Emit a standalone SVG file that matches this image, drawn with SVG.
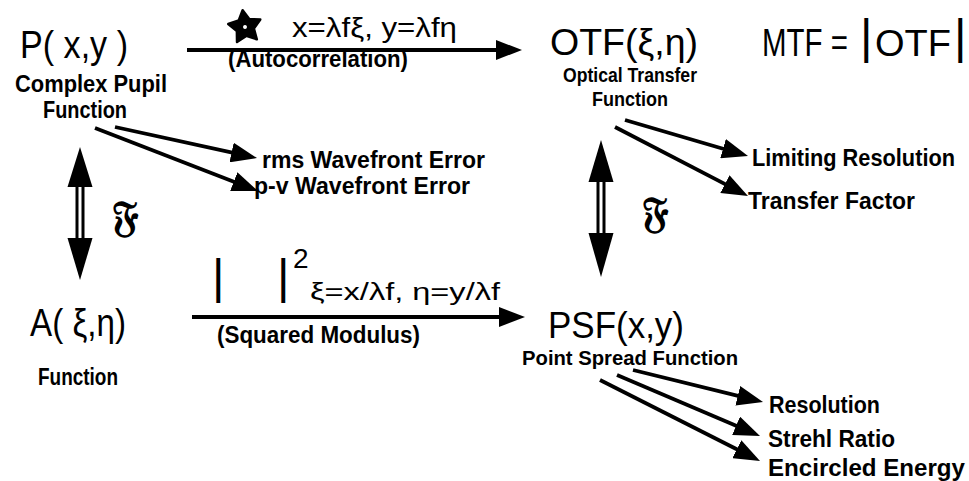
<svg xmlns="http://www.w3.org/2000/svg" width="969" height="481" viewBox="0 0 969 481">
  <style>
    text { fill: #000; font-family: "Liberation Sans", Arial, sans-serif; }
    .big { font-size: 39px; }
    .mid { font-size: 37px; }
    .lbl { font-size: 23px; font-weight: bold; }
    .sm { font-size: 21px; font-weight: bold; }
    .eq { font-size: 27px; }
    .sub { font-size: 23px; }
    .bar { font-size: 48px; }
    .frak { font-family: "DejaVu Serif", "Liberation Serif", serif; font-size: 42px; font-weight: bold; }
    .conn { stroke: #000; stroke-width: 3.8; fill: none; marker-end: url(#head); }
    .dbl { fill: #000; }
  </style>
  <defs>
    <marker id="head" markerUnits="userSpaceOnUse" viewBox="0 -10 26 20" markerWidth="26" markerHeight="20" refX="16" refY="0" orient="auto">
      <path d="M0,-10 L26,0 L0,10 z" fill="#000"/>
    </marker>
  </defs>
  <rect width="969" height="481" fill="#fff"/>

  <!-- pupil function -->
  <g id="pupil">
    <text class="big" x="20" y="58" textLength="108" lengthAdjust="spacingAndGlyphs">P( x,y )</text>
    <text class="lbl" x="91" y="92" text-anchor="middle" textLength="152" lengthAdjust="spacingAndGlyphs">Complex Pupil</text>
    <text class="lbl" x="85" y="118" text-anchor="middle" textLength="84" lengthAdjust="spacingAndGlyphs">Function</text>
  </g>

  <!-- optical transfer function -->
  <g id="otf">
    <text class="mid" x="550" y="55" textLength="148" lengthAdjust="spacingAndGlyphs">OTF(ξ,η)</text>
    <text class="sm" x="630" y="82" text-anchor="middle" textLength="134" lengthAdjust="spacingAndGlyphs">Optical Transfer</text>
    <text class="sm" x="630" y="106" text-anchor="middle" textLength="76" lengthAdjust="spacingAndGlyphs">Function</text>
  </g>

  <!-- modulation transfer function -->
  <g id="mtf">
    <text class="big" transform="translate(762,56) scale(0.755,1)">MTF =</text>
    <text class="bar" x="860" y="53">|</text>
    <text class="mid" x="875" y="56" textLength="76" lengthAdjust="spacingAndGlyphs">OTF</text>
    <text class="bar" x="954" y="53">|</text>
  </g>

  <!-- amplitude spread function -->
  <g id="amplitude">
    <text class="big" x="30" y="336" textLength="96" lengthAdjust="spacingAndGlyphs">A( ξ,η)</text>
    <text class="lbl" x="78" y="385" text-anchor="middle" textLength="80" lengthAdjust="spacingAndGlyphs">Function</text>
  </g>

  <!-- point spread function -->
  <g id="psf">
    <text class="mid" x="548" y="338" textLength="136" lengthAdjust="spacingAndGlyphs">PSF(x,y)</text>
    <text class="sm" x="522" y="365" textLength="216" lengthAdjust="spacingAndGlyphs">Point Spread Function</text>
  </g>

  <!-- pupil metrics -->
  <g id="rms">
    <text class="lbl" x="262" y="168" textLength="223" lengthAdjust="spacingAndGlyphs">rms Wavefront  Error</text>
  </g>
  <g id="pv">
    <text class="lbl" x="254" y="194" textLength="216" lengthAdjust="spacingAndGlyphs">p-v Wavefront Error</text>
  </g>

  <!-- OTF metrics -->
  <g id="limiting">
    <text class="lbl" x="752" y="166" textLength="203" lengthAdjust="spacingAndGlyphs">Limiting Resolution</text>
  </g>
  <g id="transfer">
    <text class="lbl" x="748" y="209" textLength="167" lengthAdjust="spacingAndGlyphs">Transfer Factor</text>
  </g>

  <!-- PSF metrics -->
  <g id="resolution">
    <text class="lbl" x="769" y="413" textLength="111" lengthAdjust="spacingAndGlyphs">Resolution</text>
  </g>
  <g id="strehl">
    <text class="lbl" x="768" y="447" textLength="127" lengthAdjust="spacingAndGlyphs">Strehl Ratio</text>
  </g>
  <g id="encircled">
    <text class="lbl" x="768" y="476" textLength="197" lengthAdjust="spacingAndGlyphs">Encircled Energy</text>
  </g>

  <!-- connectors and their labels -->
  <g id="connectors">
    <!-- autocorrelation: pupil to OTF -->
    <line class="conn" x1="187" y1="50" x2="512" y2="50"/>
    <g transform="translate(245,27) rotate(-8)">
      <polygon points="0,-17 5.3,-7.3 16.2,-5.3 8.6,2.8 10,13.8 0,9 -10,13.8 -8.6,2.8 -16.2,-5.3 -5.3,-7.3" fill="#000" stroke="#000" stroke-width="2.5" stroke-linejoin="round"/>
      <circle cx="0" cy="0" r="2" fill="#fff"/>
    </g>
    <text class="eq" x="292" y="37" textLength="165" lengthAdjust="spacingAndGlyphs">x=λfξ, y=λfη</text>
    <text class="lbl" x="228" y="67" textLength="180" lengthAdjust="spacingAndGlyphs">(Autocorrelation)</text>

    <!-- squared modulus: amplitude to PSF -->
    <line class="conn" x1="192" y1="317" x2="515" y2="317"/>
    <text class="bar" x="212" y="293">|</text>
    <text class="bar" x="277" y="293">|</text>
    <text x="293" y="268" style="font-size:28px">2</text>
    <text class="sub" x="310" y="300" textLength="190" lengthAdjust="spacingAndGlyphs">ξ=x/λf, η=y/λf</text>
    <text class="lbl" x="217" y="343" textLength="203" lengthAdjust="spacingAndGlyphs">(Squared Modulus)</text>

    <!-- Fourier transform pairs -->
    <g class="dbl">
      <polygon points="80,147 92.5,187 67.5,187"/>
      <rect x="75.5" y="185" width="3" height="55"/>
      <rect x="81.5" y="185" width="3" height="55"/>
      <polygon points="67.5,238 92.5,238 80,280"/>
    </g>
    <text class="frak" x="112" y="231">𝔉</text>
    <g class="dbl">
      <polygon points="601,140 613.5,182 588.5,182"/>
      <rect x="596.5" y="180" width="3" height="55"/>
      <rect x="602.5" y="180" width="3" height="55"/>
      <polygon points="588.5,233 613.5,233 601,277"/>
    </g>
    <text class="frak" x="642" y="227">𝔉</text>

    <!-- metric branches -->
    <line class="conn" x1="115" y1="127" x2="247.2" y2="155.9"/>
    <line class="conn" x1="95" y1="128" x2="248.7" y2="187.4"/>
    <line class="conn" x1="625" y1="120" x2="738.4" y2="153.2"/>
    <line class="conn" x1="615" y1="127" x2="739.1" y2="191.4"/>
    <line class="conn" x1="633" y1="370" x2="753.3" y2="399.6"/>
    <line class="conn" x1="617" y1="375" x2="750.8" y2="432.1"/>
    <line class="conn" x1="600" y1="380" x2="751.1" y2="456.5"/>
  </g>
</svg>
